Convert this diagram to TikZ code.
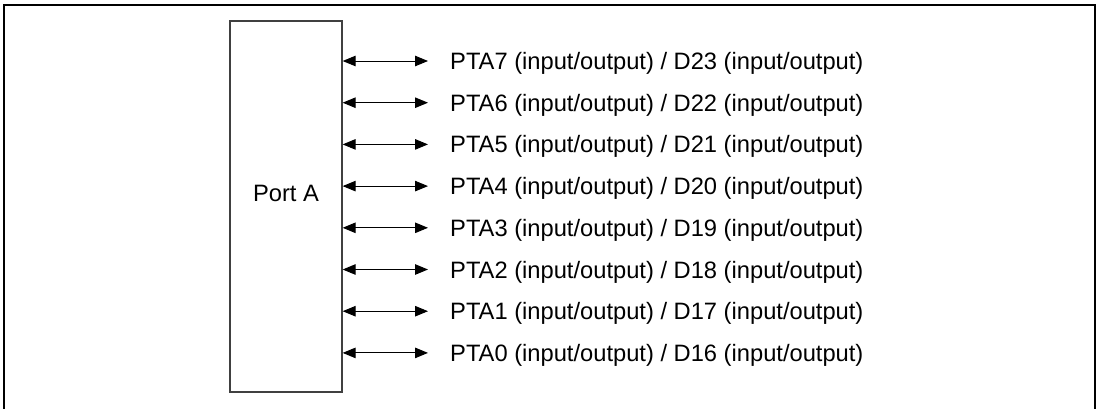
\documentclass[tikz,border=0pt]{standalone}
\usepackage{fontspec}
\setmainfont{Liberation Sans}
\usetikzlibrary{arrows.meta,positioning}

\begin{document}
\begin{tikzpicture}[
    x=1pt, y=-1pt,
    port/.style={draw=black!75, line width=1.3pt, minimum width=112pt, minimum height=371pt, inner sep=0pt},
    pin/.style={anchor=west, inner xsep=22pt, inner ysep=0pt, text depth=0pt, font=\fontsize{23.7}{28}\selectfont},
    arr/.style={{Triangle[length=13pt,width=10.5pt]}-{Triangle[length=13pt,width=10.5pt]}, line width=1pt}
]
\useasboundingbox (0,0) rectangle (1101,408);
% frame
\draw[line width=2pt] (4,412) -- (4,5) -- (1095,5) -- (1095,412);

\node[port] (porta) at (286,206.5) {};
\node[font=\fontsize{23.7}{28}\selectfont, text depth=0pt] (portlbl) at (286,193) {Port A};

\node[pin] (pa7) at (428,61) {PTA7 (input/output) / D23 (input/output)};
\node[pin] (pa6) at (428,102.7) {PTA6 (input/output) / D22 (input/output)};
\node[pin] (pa5) at (428,144.4) {PTA5 (input/output) / D21 (input/output)};
\node[pin] (pa4) at (428,186.1) {PTA4 (input/output) / D20 (input/output)};
\node[pin] (pa3) at (428,227.8) {PTA3 (input/output) / D19 (input/output)};
\node[pin] (pa2) at (428,269.5) {PTA2 (input/output) / D18 (input/output)};
\node[pin] (pa1) at (428,311.2) {PTA1 (input/output) / D17 (input/output)};
\node[pin] (pa0) at (428,352.9) {PTA0 (input/output) / D16 (input/output)};

\draw[arr] (porta.east |- pa7.west) -- (pa7.west);
\draw[arr] (porta.east |- pa6.west) -- (pa6.west);
\draw[arr] (porta.east |- pa5.west) -- (pa5.west);
\draw[arr] (porta.east |- pa4.west) -- (pa4.west);
\draw[arr] (porta.east |- pa3.west) -- (pa3.west);
\draw[arr] (porta.east |- pa2.west) -- (pa2.west);
\draw[arr] (porta.east |- pa1.west) -- (pa1.west);
\draw[arr] (porta.east |- pa0.west) -- (pa0.west);
\end{tikzpicture}
\end{document}
